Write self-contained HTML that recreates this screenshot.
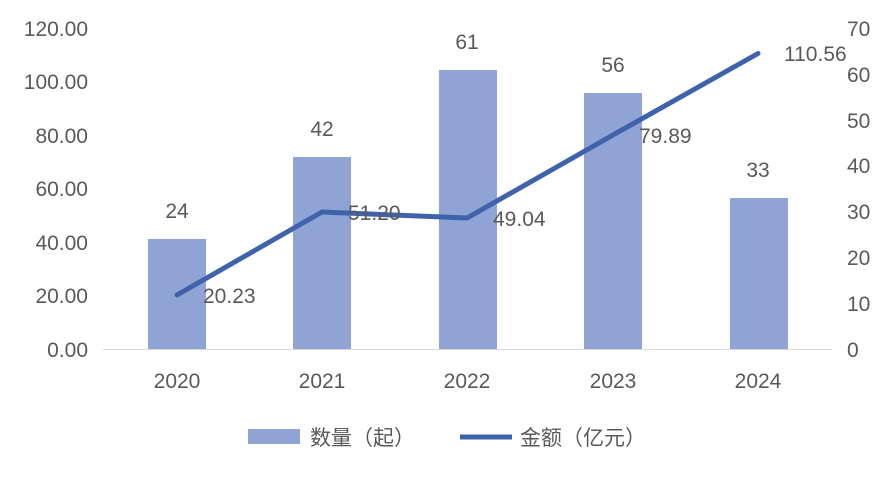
<!DOCTYPE html>
<html><head><meta charset="utf-8"><style>
html,body{margin:0;padding:0;background:#fff;}
svg text{font-family:"Liberation Sans","Noto Sans CJK SC",sans-serif;fill:#595959;font-size:21px;}
</style></head><body>
<svg width="893" height="475" viewBox="0 0 893 475" xmlns="http://www.w3.org/2000/svg">
<g text-anchor="end">
<text x="88" y="357">0.00</text>
<text x="88" y="303">20.00</text>
<text x="88" y="250">40.00</text>
<text x="88" y="196">60.00</text>
<text x="88" y="143">80.00</text>
<text x="88" y="89">100.00</text>
<text x="88" y="36">120.00</text>
</g>
<g text-anchor="start">
<text x="847" y="357">0</text>
<text x="847" y="311">10</text>
<text x="847" y="265">20</text>
<text x="847" y="219">30</text>
<text x="847" y="173">40</text>
<text x="847" y="128">50</text>
<text x="847" y="82">60</text>
<text x="847" y="36">70</text>
</g>
<line x1="103" y1="349.5" x2="832" y2="349.5" stroke="#d9d9d9" stroke-width="1"/>
<g fill="#8FA3D5">
<rect x="148" y="239" width="58" height="110"/>
<rect x="293" y="157" width="58" height="192"/>
<rect x="439" y="70" width="58" height="279"/>
<rect x="584" y="93" width="58" height="256"/>
<rect x="730" y="198" width="58" height="151"/>
</g>
<g text-anchor="middle">
<text x="177" y="218">24</text>
<text x="322" y="136">42</text>
<text x="467" y="49">61</text>
<text x="613" y="72">56</text>
<text x="758" y="177">33</text>
<text x="177" y="388">2020</text>
<text x="322" y="388">2021</text>
<text x="467" y="388">2022</text>
<text x="613" y="388">2023</text>
<text x="758" y="388">2024</text>
</g>
<polyline points="177,295 322,212 467,218 613,135 758,53.5" fill="none" stroke="#3F62AD" stroke-width="5" stroke-linejoin="round" stroke-linecap="round"/>
<g text-anchor="start">
<text x="203" y="303">20.23</text>
<text x="348" y="220">51.20</text>
<text x="493" y="226">49.04</text>
<text x="639" y="143">79.89</text>
<text x="784" y="61">110.56</text>
</g>
<rect x="248" y="429" width="52" height="15" fill="#8FA3D5"/>
<text x="310" y="445">数量（起）</text>
<line x1="460" y1="437" x2="512" y2="437" stroke="#3F62AD" stroke-width="5"/>
<text x="520" y="445">金额（亿元）</text>
</svg>
</body></html>
